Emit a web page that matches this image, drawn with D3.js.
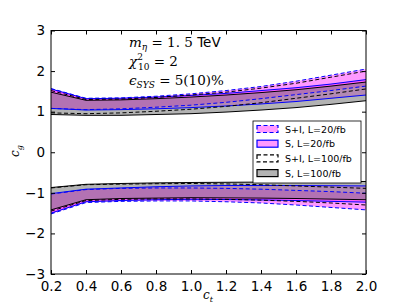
<!DOCTYPE html>
<html>
<head>
<meta charset="utf-8">
<script src="https://cdn.jsdelivr.net/npm/d3@7"></script>
<style>
  body { margin: 0; background: #fff; }
  svg { display: block; }
  .tick text { font-family: "DejaVu Sans", sans-serif; font-size: 13.5px; }
</style>
</head>
<body>
<svg id="chart" width="407" height="305"></svg>
<script>
// c_t sample points
const ct = [0.2, 0.4, 0.6, 0.8, 1.0, 1.2, 1.4, 1.6, 1.8, 2.0];

// upper branch (c_g > 0)
const upSI20Top  = [1.57, 1.33, 1.34, 1.38, 1.44, 1.52, 1.62, 1.75, 1.90, 2.05];
const upSI20Bot  = [1.08, 1.05, 1.07, 1.11, 1.16, 1.23, 1.32, 1.42, 1.52, 1.63];
const upS20Top   = [1.56, 1.32, 1.33, 1.36, 1.40, 1.45, 1.52, 1.59, 1.68, 1.79];
const upS20Bot   = [1.08, 1.04, 1.05, 1.07, 1.10, 1.14, 1.19, 1.25, 1.33, 1.41];
const upSI100Top = [1.52, 1.30, 1.31, 1.35, 1.41, 1.48, 1.58, 1.70, 1.85, 2.00];
const upSI100Bot = [0.97, 0.95, 0.97, 1.01, 1.06, 1.13, 1.22, 1.33, 1.44, 1.56];
const upS100Top  = [1.48, 1.28, 1.29, 1.32, 1.36, 1.41, 1.47, 1.54, 1.63, 1.73];
const upS100Bot  = [0.93, 0.91, 0.91, 0.93, 0.95, 0.99, 1.04, 1.10, 1.18, 1.27];

// lower branch (c_g < 0)
const loSI20Top  = [-1.03, -0.92, -0.89, -0.88, -0.88, -0.89, -0.91, -0.94, -0.97, -1.01];
const loSI20Bot  = [-1.52, -1.24, -1.21, -1.20, -1.20, -1.22, -1.25, -1.30, -1.36, -1.42];
const loS20Top   = [-1.02, -0.91, -0.88, -0.85, -0.83, -0.82, -0.82, -0.82, -0.825, -0.83];
const loS20Bot   = [-1.50, -1.22, -1.19, -1.17, -1.16, -1.165, -1.175, -1.19, -1.21, -1.23];
const loSI100Top = [-0.88, -0.80, -0.785, -0.775, -0.77, -0.78, -0.80, -0.83, -0.86, -0.89];
const loSI100Bot = [-1.45, -1.19, -1.16, -1.15, -1.15, -1.16, -1.18, -1.21, -1.25, -1.30];
const loS100Top  = [-0.87, -0.79, -0.77, -0.755, -0.745, -0.74, -0.735, -0.73, -0.725, -0.72];
const loS100Bot  = [-1.42, -1.17, -1.14, -1.13, -1.12, -1.125, -1.13, -1.14, -1.155, -1.17];

const xTicks = [0.2, 0.4, 0.6, 0.8, 1.0, 1.2, 1.4, 1.6, 1.8, 2.0];
const yTicks = [-3, -2, -1, 0, 1, 2, 3];
const legendLabels = ["S+I, L=20/fb", "S, L=20/fb", "S+I, L=100/fb", "S, L=100/fb"];

const margin = {left: 51, right: 41, top: 30.5, bottom: 31};
const W = 407, H = 305;

const svg = d3.select('#chart');

const x = d3.scaleLinear().domain([0.2, 2.0]).range([margin.left, W - margin.right]);
const y = d3.scaleLinear().domain([-3, 3]).range([H - margin.bottom, margin.top]);

// band definitions: fill + edge style
const bands = [
  {fill: 'magenta', op: 0.4, stroke: '#0000ff', dash: '4,2.5', sw: 1,
   up: [upSI20Bot, upSI20Top], lo: [loSI20Bot, loSI20Top]},
  {fill: 'magenta', op: 0.4, stroke: '#0000ff', dash: null, sw: 1,
   up: [upS20Bot, upS20Top], lo: [loS20Bot, loS20Top]},
  {fill: 'none', op: 0, stroke: '#000', dash: '4,2.5', sw: 1,
   up: [upSI100Bot, upSI100Top], lo: [loSI100Bot, loSI100Top]},
  {fill: '#808080', op: 0.6, stroke: '#000', dash: null, sw: 1,
   up: [upS100Bot, upS100Top], lo: [loS100Bot, loS100Top]}
];

const area = d3.area()
  .x(d => x(d.ct))
  .y0(d => y(d.b))
  .y1(d => y(d.t));

const line = d3.line()
  .x(d => x(d[0]))
  .y(d => y(d[1]));

const plot = svg.append('g');

// fills first
bands.forEach(b => {
  if (b.fill === 'none') return;
  [b.up, b.lo].forEach(pair => {
    const pts = ct.map((c, i) => ({ct: c, b: pair[0][i], t: pair[1][i]}));
    plot.append('path')
      .attr('d', area(pts))
      .attr('fill', b.fill)
      .attr('fill-opacity', b.op)
      .attr('stroke', 'none');
  });
});

// then edges
bands.forEach(b => {
  [b.up, b.lo].forEach(pair => {
    pair.forEach(arr => {
      plot.append('path')
        .attr('d', line(ct.map((c, i) => [c, arr[i]])))
        .attr('fill', 'none')
        .attr('stroke', b.stroke)
        .attr('stroke-width', b.sw)
        .attr('stroke-dasharray', b.dash);
    });
  });
});

// axes with inward ticks on all four sides
const fmtX = d3.format('.1f');
const fmtY = d => d < 0 ? '\u2212' + Math.abs(d) : String(d);

const gx = svg.append('g')
  .attr('transform', `translate(0,${H - margin.bottom})`)
  .call(d3.axisBottom(x).tickValues(xTicks).tickFormat(fmtX).tickSizeInner(-4).tickSizeOuter(0).tickPadding(5));
gx.selectAll('text').attr('dy', '0.9em');

const gy = svg.append('g')
  .attr('transform', `translate(${margin.left},0)`)
  .call(d3.axisLeft(y).tickValues(yTicks).tickFormat(fmtY).tickSizeInner(-4).tickSizeOuter(0).tickPadding(6));

svg.append('g')
  .attr('transform', `translate(0,${margin.top})`)
  .call(d3.axisTop(x).tickValues(xTicks).tickFormat('').tickSizeInner(-4).tickSizeOuter(0));

svg.append('g')
  .attr('transform', `translate(${W - margin.right},0)`)
  .call(d3.axisRight(y).tickValues(yTicks).tickFormat('').tickSizeInner(-4).tickSizeOuter(0));

svg.selectAll('.domain').remove();
svg.selectAll('.tick line').attr('stroke', '#000');

// frame
svg.append('rect')
  .attr('x', margin.left).attr('y', margin.top)
  .attr('width', W - margin.left - margin.right)
  .attr('height', H - margin.top - margin.bottom)
  .attr('fill', 'none').attr('stroke', '#000').attr('stroke-width', 1);

// axis labels
const serif = '"DejaVu Serif", serif';
const xl = svg.append('text')
  .attr('x', 203).attr('y', 299)
  .style('font-family', serif).style('font-size', '12px');
xl.append('tspan').style('font-style', 'italic').text('c');
xl.append('tspan').style('font-style', 'italic').style('font-size', '8px').attr('dy', 3).text('t');

const yl = svg.append('text')
  .attr('transform', 'translate(19,157) rotate(-90)')
  .style('font-family', serif).style('font-size', '12px');
yl.append('tspan').style('font-style', 'italic').text('c');
yl.append('tspan').style('font-style', 'italic').style('font-size', '8px').attr('dy', 3).text('g');

// annotation
const ann = svg.append('g')
  .style('font-family', serif).style('font-size', '13.5px');
const a1 = ann.append('text').attr('x', 129).attr('y', 47);
a1.append('tspan').style('font-style', 'italic').text('m');
a1.append('tspan').style('font-style', 'italic').style('font-size', '9px').attr('dy', 3).text('η');
a1.append('tspan').attr('dy', -3).text(' = 1. 5 ');
a1.append('tspan').style('font-family', '"DejaVu Sans", sans-serif').text('TeV');

const a2 = ann.append('text').attr('x', 129).attr('y', 66);
a2.append('tspan').style('font-style', 'italic').text('χ');
a2.append('tspan').style('font-size', '9px').attr('dy', -6).text('2');
a2.append('tspan').style('font-size', '9px').attr('dx', -5).attr('dy', 10).text('10');
a2.append('tspan').attr('dy', -4).text(' = 2');

const a3 = ann.append('text').attr('x', 129).attr('y', 85);
a3.append('tspan').style('font-style', 'italic').text('ϵ');
a3.append('tspan').style('font-style', 'italic').style('font-size', '9px').attr('dy', 3).text('SYS');
a3.append('tspan').attr('dy', -3).text(' = 5(10)%');

// legend
const lg = svg.append('g').attr('transform', 'translate(253,121)');
lg.append('rect')
  .attr('width', 108).attr('height', 62)
  .attr('fill', '#fff').attr('stroke', '#000').attr('stroke-width', 0.8);

legendLabels.forEach((lab, i) => {
  const b = bands[i];
  const cy = 8 + i * 14.7;
  lg.append('rect')
    .attr('x', 4).attr('y', cy - 3.5).attr('width', 21).attr('height', 7)
    .attr('fill', b.fill === 'none' ? '#fff' : b.fill)
    .attr('fill-opacity', b.fill === 'none' ? 1 : b.op)
    .attr('stroke', b.stroke).attr('stroke-width', 1.2)
    .attr('stroke-dasharray', b.dash);
  lg.append('text')
    .attr('x', 32).attr('y', cy + 3.5)
    .style('font-family', '"DejaVu Sans", sans-serif').style('font-size', '9.5px')
    .text(lab);
});
</script>
</body>
</html>
